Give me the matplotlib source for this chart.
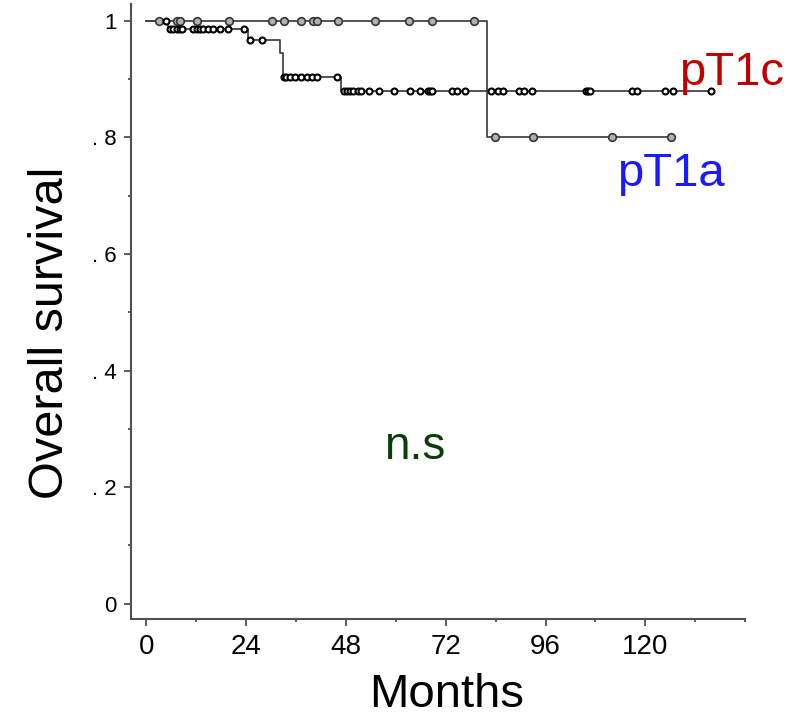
import numpy as np
import matplotlib
matplotlib.use("Agg")
import matplotlib.pyplot as plt
from matplotlib.ticker import MultipleLocator

# Kaplan-Meier curves (months, survival)
t1a_events = [81.8]
t1a_levels = [1.0, 0.8]
t1a_end = 126.2
t1a_censor = [3.0, 7.3, 8.0, 12.1, 19.8, 30.1, 33.0, 37.2, 40.0, 41.0, 46.0,
              55.0, 63.2, 68.7, 78.8, 83.8, 93.0, 112.0, 126.2]

t1c_events = [5.1, 24.3, 32.1, 32.9, 46.9]
t1c_levels = [1.0, 0.986, 0.966, 0.945, 0.904, 0.879]
t1c_end = 135.8
t1c_censor = [4.6, 5.6, 6.3, 7.3, 8.0, 8.5, 11.1, 12.1, 12.8, 13.6, 14.8, 16.0,
              17.6, 19.6, 23.4, 24.8, 27.8, 33.1, 33.5, 34.5, 35.8, 37.2, 38.5,
              39.7, 40.9, 45.8, 47.5, 48.2, 48.9, 49.7, 50.9, 51.6, 53.5, 55.9,
              59.5, 63.4, 65.8, 67.7, 68.2, 68.7, 73.5, 74.7, 76.6, 82.9, 84.6,
              85.8, 89.6, 90.8, 92.7, 105.8, 106.2, 106.7, 116.8, 118.0, 124.8,
              126.7, 135.8]

xticks = [0, 24, 48, 72, 96, 120]
yticks = [0, 0.2, 0.4, 0.6, 0.8, 1.0]
ytick_labels = ["0", ". 2", ". 4", ". 6", ". 8", "1"]


def km_step(events, levels, end):
    xs = [0] + list(events) + [end]
    ys = list(levels) + [levels[-1]]
    return xs, ys


def censor_y(events, levels, times):
    idx = np.searchsorted(events, times, side="right")
    return np.array(levels)[idx]


fig = plt.figure(figsize=(7.96, 7.22), dpi=100)
ax = fig.add_axes([0.1642, 0.1427, 0.7718, 0.8513])

line_col = "#454545"

xs, ys = km_step(t1a_events, t1a_levels, t1a_end)
ax.step(xs, ys, where="post", color=line_col, lw=1.3, zorder=2)
ax.plot(t1a_censor, censor_y(t1a_events, t1a_levels, t1a_censor), "o",
        ms=5.5, mfc="#b0b0b0", mec="#353535", mew=1.2, zorder=3)

xs, ys = km_step(t1c_events, t1c_levels, t1c_end)
ax.step(xs, ys, where="post", color=line_col, lw=1.3, zorder=2)
ax.plot(t1c_censor, censor_y(t1c_events, t1c_levels, t1c_censor), "o",
        ms=4.3, mfc="white", mec="black", mew=1.5, zorder=4)

ax.set_xlim(-3.8, 144)
ax.set_ylim(-0.026, 1.028)

for s in ["top", "right"]:
    ax.spines[s].set_visible(False)
for s in ["left", "bottom"]:
    ax.spines[s].set_color("#505050")
    ax.spines[s].set_linewidth(1.5)

ax.set_xticks(xticks)
ax.xaxis.set_minor_locator(MultipleLocator(12))
ax.set_yticks(yticks)
ax.set_yticklabels(ytick_labels)
ax.set_yticks([0.1, 0.3, 0.5, 0.7, 0.9], minor=True)
ax.tick_params(which="major", length=5, width=1.3, color="#505050", direction="out")
ax.tick_params(which="minor", length=2.5, width=1.3, color="#505050", direction="out")
ax.tick_params(axis="x", which="major", pad=6)
ax.tick_params(axis="y", which="major", pad=5)

for lab in ax.get_xticklabels():
    lab.set_fontfamily(["Liberation Sans Narrow", "Liberation Sans", "DejaVu Sans"])
    lab.set_fontsize(20)
for lab in ax.get_yticklabels():
    lab.set_fontfamily(["Liberation Sans", "DejaVu Sans"])
    lab.set_fontsize(16)

font = ["Liberation Sans", "DejaVu Sans"]
ax.text(140.7, 0.89, "pT1c", color="#c00000", fontsize=34, family=font,
        ha="center", va="baseline")
ax.text(126.2, 0.716, "pT1a", color="#1a1aff", fontsize=34, family=font,
        ha="center", va="baseline")
ax.text(64.4, 0.248, "n.s", color="#0b3d0b", fontsize=33, family=font,
        ha="center", va="baseline")

fig.text(447 / 796, 1 - 707 / 722, "Months", fontsize=34, family=font,
         ha="center", va="baseline")
fig.text(51 / 796, 1 - 333 / 722, "Overall survival", fontsize=35, family=font,
         rotation=90, ha="center", va="center")

fig.savefig("out.png", dpi=100)
